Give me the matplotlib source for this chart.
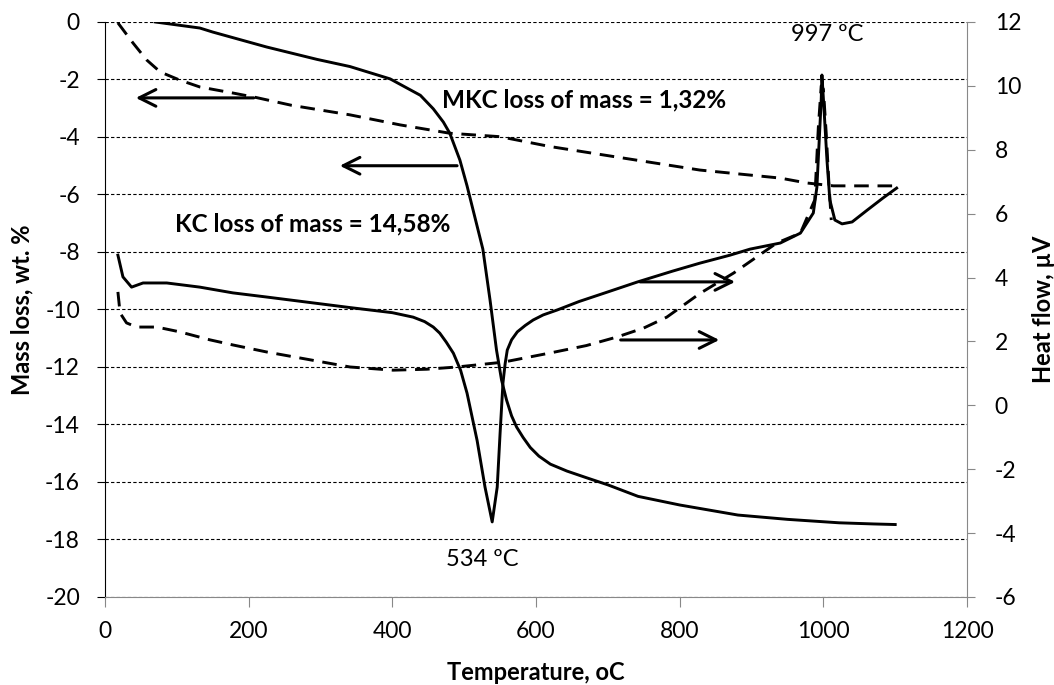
import numpy as np
import matplotlib.pyplot as plt

plt.rcParams["font.family"] = ["Lato", "DejaVu Sans"]
plt.rcParams["axes.unicode_minus"] = False

# mass loss, KC (solid) - left axis
kc_tg_t = [70, 132, 150, 225, 295, 341, 397, 439, 457, 471, 480, 494, 504, 518, 526, 536, 545, 552,
           559, 566, 573, 582, 592, 604, 620, 643, 670, 700, 742, 800, 881, 950, 1022, 1070, 1100]
kc_tg = [0, -0.21, -0.35, -0.87, -1.3, -1.55, -1.98, -2.55, -3.02, -3.48, -3.87, -4.8, -5.7, -7.1, -7.9, -9.67, -11.41, -12.45,
         -13.15, -13.7, -14.09, -14.45, -14.8, -15.1, -15.38, -15.62, -15.85, -16.1, -16.5, -16.8, -17.15, -17.3, -17.42, -17.46, -17.48]

# mass loss, MKC (dashed) - left axis
mkc_tg_t = [18, 39, 58, 77, 104, 132, 156, 178, 211, 260, 341, 411, 480, 550, 619,
            713, 828, 940, 977, 1014, 1100]
mkc_tg = [-0.03, -0.73, -1.32, -1.74, -2.02, -2.26, -2.37, -2.47, -2.63, -2.9, -3.23, -3.58, -3.87, -3.99, -4.33,
          -4.7, -5.15, -5.43, -5.6, -5.7, -5.7]

# heat flow, KC (solid) - right axis
kc_dta_t = [18, 25, 37, 53, 86, 132, 178, 225, 341, 400, 429, 445, 457, 466, 475, 485, 495, 504, 518, 529, 539,
            546, 550, 554, 557, 560, 566, 574, 585, 596, 610, 629, 660, 700, 741, 790, 828, 870, 898, 940,
            968, 986, 991, 994, 997, 998, 1001, 1005, 1009, 1016, 1026, 1040, 1061, 1083, 1102]
kc_dta = [4.7, 4.02, 3.7, 3.83, 3.83, 3.7, 3.52, 3.39, 3.06, 2.9, 2.76, 2.62, 2.45, 2.26, 1.98, 1.63, 1.1, 0.38, -1.1, -2.56, -3.65,
          -2.56, -0.87, 0.7, 1.3, 1.73, 2.05, 2.3, 2.5, 2.67, 2.83, 2.98, 3.25, 3.55, 3.86, 4.2, 4.45, 4.7, 4.89, 5.08,
          5.39, 6.02, 6.83, 8.2, 9.56, 10.34, 9.24, 7.68, 6.43, 5.8, 5.68, 5.74, 6.11, 6.49, 6.8]

# heat flow, MKC (dashed) - right axis
mkc_dta_t = [18, 21, 30, 44, 72, 104, 146, 178, 225, 341, 401, 448, 490, 554, 620,
             670, 713, 750, 782, 828, 875, 921, 935, 968, 988, 993, 997, 1000, 1004, 1008, 1011]
mkc_dta = [3.55, 2.89, 2.58, 2.45, 2.45, 2.3, 2.05, 1.89, 1.67, 1.2, 1.1, 1.13, 1.2, 1.35, 1.64,
           1.87, 2.14, 2.42, 2.76, 3.5, 4.14, 4.86, 5.08, 5.39, 6.43, 8.7, 10.0, 9.9, 8.5, 6.83, 5.8]

fig = plt.figure(figsize=(10.54, 6.85), dpi=100)
ax = fig.add_axes([0.0996, 0.1285, 0.8179, 0.8394])
ax2 = ax.twinx()

ax.plot(kc_tg_t, kc_tg, color="black", lw=2.1)
ax.plot(mkc_tg_t, mkc_tg, color="black", lw=2.1, dashes=(5, 3))
ax2.plot(kc_dta_t, kc_dta, color="black", lw=2.1)
ax2.plot(mkc_dta_t, mkc_dta, color="black", lw=2.1, dashes=(5, 3))

ax.set_xlim(0, 1200)
ax.set_ylim(-20, 0)
ax2.set_ylim(-6, 12)
ax.set_xticks(range(0, 1201, 200))
ax.set_yticks(range(-20, 1, 2))
ax2.set_yticks(range(-6, 13, 2))

ax.yaxis.grid(True, color="black", lw=0.8, linestyle=(0, (3, 2)))
ax.set_axisbelow(True)

for a in (ax, ax2):
    a.spines["top"].set_visible(False)
ax.spines["right"].set_visible(False)
ax2.spines["left"].set_visible(False)
ax2.spines["bottom"].set_visible(False)
ax2.spines["right"].set_color("#888888")
ax.spines["bottom"].set_color("#888888")
ax.spines["left"].set_color("black")

ax.tick_params(axis="y", direction="out", length=6, width=0.8, labelsize=16.5, pad=12)
ax.tick_params(axis="x", direction="out", length=7, width=0.8, color="#888888", labelsize=16.5, pad=10)
ax2.tick_params(axis="y", direction="out", length=6, width=0.8, color="#888888", labelsize=16.5, pad=14)

ax.set_xlabel("Temperature, oC", fontsize=17, fontweight="bold", labelpad=14)
ax.set_ylabel("Mass loss, wt. %", fontsize=17, fontweight="bold", labelpad=8)
ax2.set_ylabel("Heat flow, \u00b5V", fontsize=17, fontweight="bold", labelpad=8)

arrow = dict(arrowstyle="->", color="black", lw=2.2, mutation_scale=30)
ax.annotate("", xy=(39, -2.64), xytext=(211, -2.64), arrowprops=arrow)
ax.annotate("", xy=(323, -5.0), xytext=(494, -5.0), arrowprops=arrow)
ax.annotate("", xy=(881, -9.04), xytext=(741, -9.04), arrowprops=arrow)
ax.annotate("", xy=(859, -11.06), xytext=(714, -11.06), arrowprops=arrow)

ax.text(469, -2.71, "MKC loss of mass = 1,32%", fontsize=17.5, fontweight="bold", va="center")
ax.text(97, -7.03, "KC loss of mass = 14,58%", fontsize=17.5, fontweight="bold", va="center")
ax.text(1005, -0.42, "997 \u00baC", fontsize=17, ha="center", va="center")
ax.text(525, -18.68, "534 \u00baC", fontsize=17, ha="center", va="center")

fig.savefig("out.png", dpi=100)
